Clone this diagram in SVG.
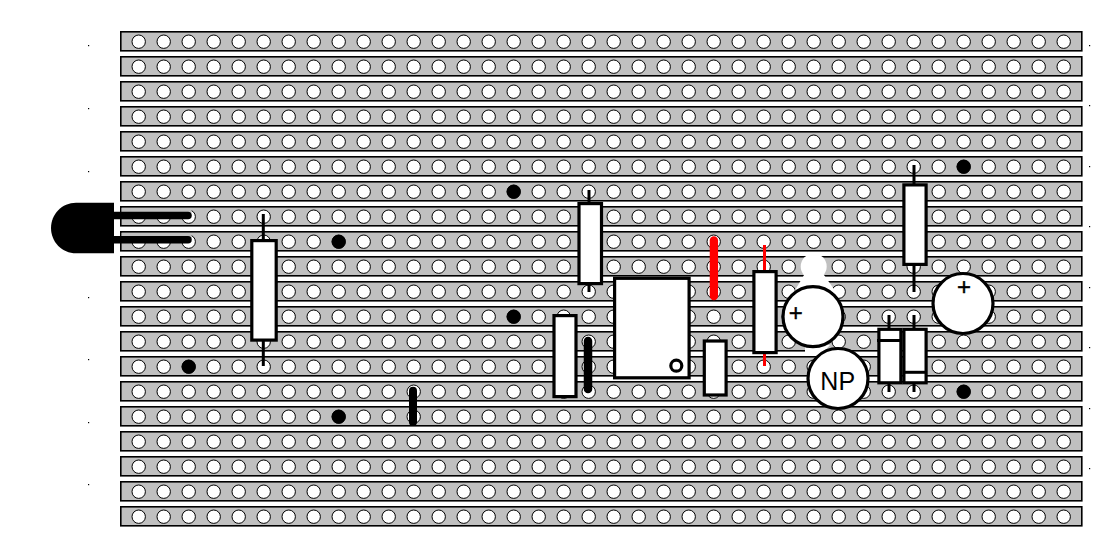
<svg xmlns="http://www.w3.org/2000/svg" width="1100" height="540" viewBox="0 0 1100 540">
<style>
.s{fill:#c0c0c0;stroke:#000;stroke-width:1.6}
.h{fill:#fff;stroke:#000;stroke-width:1}
.b{fill:#000}
.c{fill:#fff;stroke:#000;stroke-width:3.2}
.l{stroke:#000;stroke-width:3;fill:none}
.r{stroke:#f00;stroke-width:3;fill:none}
.j{stroke:#000;stroke-width:8;stroke-linecap:round;fill:none}
.d{fill:#000}
.t{font-family:"Liberation Sans",Arial,sans-serif;fill:#000;text-anchor:middle}
.p{stroke:#000;stroke-width:.4}
</style>
<defs>
<circle id="o" class="h" r="6.700"/>
<g id="strip">
<rect class="s" x="120.800" y="31.800" width="961" height="19"/>
<g transform="translate(138.7 41.7)">
<use href="#o" x="0"/><use href="#o" x="25"/><use href="#o" x="50"/><use href="#o" x="75"/><use href="#o" x="100"/><use href="#o" x="125"/><use href="#o" x="150"/><use href="#o" x="175"/><use href="#o" x="200"/><use href="#o" x="225"/><use href="#o" x="250"/><use href="#o" x="275"/><use href="#o" x="300"/><use href="#o" x="325"/><use href="#o" x="350"/><use href="#o" x="375"/><use href="#o" x="400"/><use href="#o" x="425"/><use href="#o" x="450"/><use href="#o" x="475"/><use href="#o" x="500"/><use href="#o" x="525"/><use href="#o" x="550"/><use href="#o" x="575"/><use href="#o" x="600"/><use href="#o" x="625"/><use href="#o" x="650"/><use href="#o" x="675"/><use href="#o" x="700"/><use href="#o" x="725"/><use href="#o" x="750"/><use href="#o" x="775"/><use href="#o" x="800"/><use href="#o" x="825"/><use href="#o" x="850"/><use href="#o" x="875"/><use href="#o" x="900"/><use href="#o" x="925"/>
</g>
</g>
</defs>
<rect width="1100" height="540" fill="#fff"/>
<g id="board">
<use href="#strip" y="0"/><use href="#strip" y="25"/><use href="#strip" y="50"/><use href="#strip" y="75"/><use href="#strip" y="100"/><use href="#strip" y="125"/><use href="#strip" y="150"/><use href="#strip" y="175"/><use href="#strip" y="200"/><use href="#strip" y="225"/><use href="#strip" y="250"/><use href="#strip" y="275"/><use href="#strip" y="300"/><use href="#strip" y="325"/><use href="#strip" y="350"/><use href="#strip" y="375"/><use href="#strip" y="400"/><use href="#strip" y="425"/><use href="#strip" y="450"/><use href="#strip" y="475"/>
</g>
<g id="track-cuts">
<circle class="b" cx="963.7" cy="166.7" r="7"/><circle class="b" cx="513.7" cy="191.7" r="7"/><circle class="b" cx="338.7" cy="241.7" r="7"/><circle class="b" cx="513.7" cy="316.7" r="7"/><circle class="b" cx="188.7" cy="366.7" r="7"/><circle class="b" cx="963.7" cy="391.7" r="7"/><circle class="b" cx="338.7" cy="416.7" r="7"/>
</g>
<g id="margin-ticks">
<rect class="d" x="88" y="45" width="1.2" height="1.2"/><rect class="d" x="88" y="108" width="1.2" height="1.2"/><rect class="d" x="88" y="171" width="1.2" height="1.2"/><rect class="d" x="88" y="297" width="1.2" height="1.2"/><rect class="d" x="88" y="359" width="1.2" height="1.2"/><rect class="d" x="88" y="422" width="1.2" height="1.2"/><rect class="d" x="88" y="484" width="1.2" height="1.2"/>
<rect class="d" x="1089" y="45" width="1.2" height="1.2"/><rect class="d" x="1089" y="105" width="1.2" height="1.2"/><rect class="d" x="1089" y="166" width="1.2" height="1.2"/><rect class="d" x="1089" y="226" width="1.2" height="1.2"/><rect class="d" x="1089" y="287" width="1.2" height="1.2"/><rect class="d" x="1089" y="347" width="1.2" height="1.2"/><rect class="d" x="1089" y="408" width="1.2" height="1.2"/><rect class="d" x="1089" y="468" width="1.2" height="1.2"/>
</g>
<g id="connectors">
<path class="j" style="stroke-width:8.500" d="M588 341V389"/>
<path class="j" d="M413 390.700V422"/>
<path class="j" style="stroke:#f00;stroke-width:8.300" d="M713.900 240.500V296"/>
</g>
<g id="transistor">
<rect x="121.600" y="208" width="70" height="5" fill="#c0c0c0"/>
<rect x="121.600" y="233" width="70" height="5" fill="#c0c0c0"/>
<path class="b" d="M114 202.700H76C62 202.700 51 214 51 228C51 242 62 253.300 76 253.300H114Z"/>
<path class="j" style="stroke-width:7.500" d="M112 215.400H188"/>
<path class="j" style="stroke-width:7.500" d="M112 239.700H188"/>
</g>
<g id="r1"><path class="l" d="M263.300 214V366"/><rect class="c" x="251.800" y="240.600" width="24.400" height="99.500"/></g>
<g id="r2"><path class="l" d="M589 190V292"/><rect class="c" x="579" y="203.600" width="22.500" height="80"/></g>
<g id="r3"><rect class="c" x="554" y="315.600" width="22" height="81"/></g>
<g id="ic"><rect class="c" x="614.600" y="278.300" width="74.500" height="99.500"/><circle class="c" cx="676.300" cy="365.700" r="5.500"/></g>
<g id="c-small"><rect class="c" x="704.300" y="341" width="21.800" height="54"/></g>
<g id="r4"><path class="r" d="M764.500 245V366"/><rect class="c" x="753.900" y="271.600" width="22.200" height="81"/></g>
<g id="c1">
<circle cx="813.700" cy="266.500" r="13" fill="#fff"/>
<path fill="#fff" d="M804 275H824L836 292H794ZM805 345H830L820 356H805Z"/>
<circle class="c" cx="813" cy="316.700" r="30"/>
<text class="t p" x="795.700" y="321" font-size="24">+</text>
</g>
<g id="c-np">
<circle class="c" cx="838" cy="378.500" r="30"/>
<text class="t" x="837.700" y="390" font-size="25">NP</text>
</g>
<g id="r5"><path class="l" d="M914 165V292"/><rect class="c" x="903.900" y="184.900" width="22.200" height="79.500"/></g>
<g id="c2">
<circle class="c" cx="963" cy="303.500" r="30"/>
<text class="t p" x="964" y="295" font-size="24">+</text>
</g>
<g id="d1"><path class="l" d="M889 315V392"/><rect class="c" x="878.900" y="329.300" width="22" height="53.500"/><path class="l" d="M877 340.500H902"/></g>
<g id="d2"><path class="l" d="M914 315V392"/><rect class="c" x="903.900" y="329.300" width="22.200" height="53.500"/><path class="l" d="M903 372.300H927"/></g>
</svg>
